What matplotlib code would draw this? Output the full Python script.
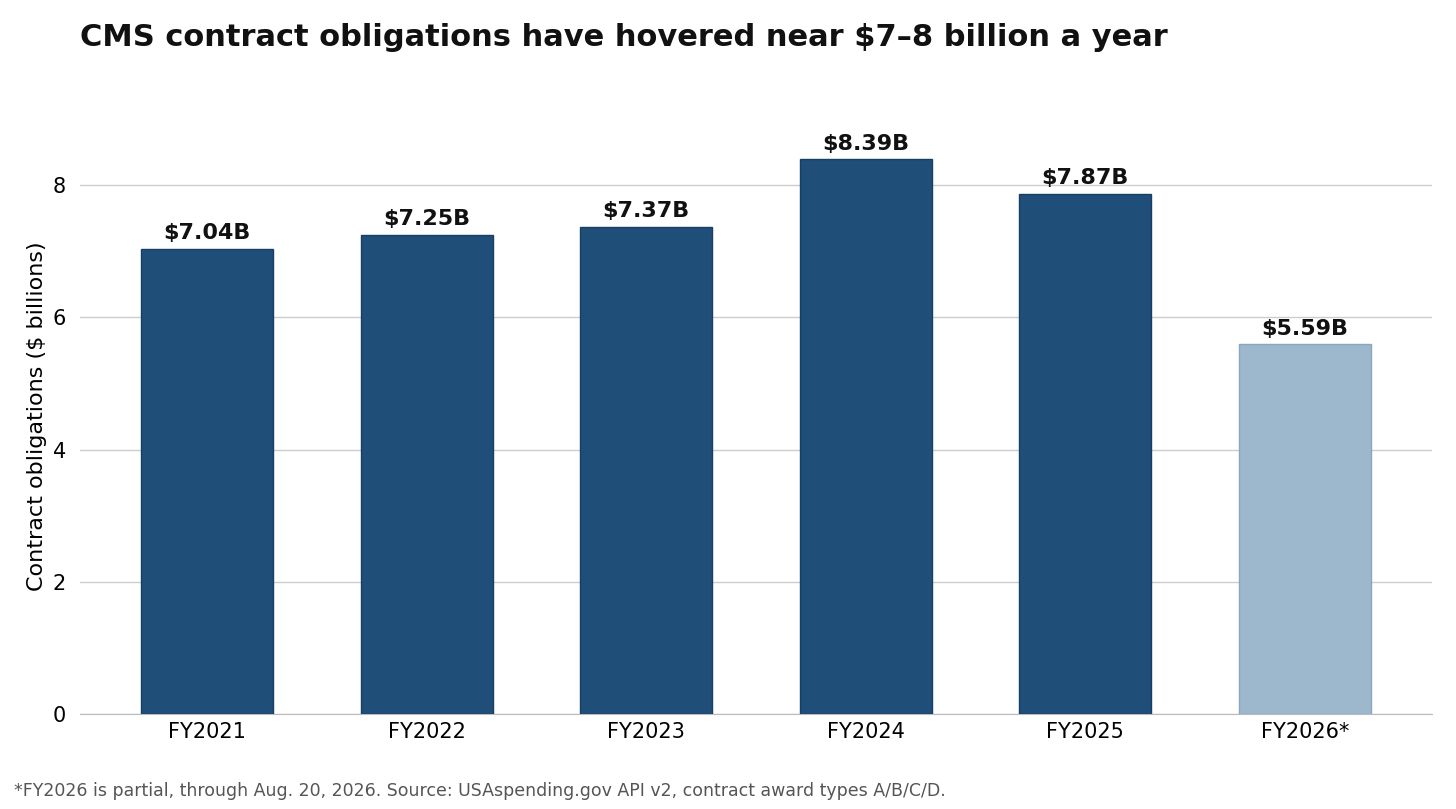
import matplotlib
matplotlib.use("Agg")
import matplotlib.pyplot as plt

# 数据
years = ["FY2021", "FY2022", "FY2023", "FY2024", "FY2025", "FY2026*"]
values = [7.04, 7.25, 7.37, 8.39, 7.87, 5.59]
partial = [False, False, False, False, False, True]

fig = plt.figure(figsize=(14.56, 8.09), dpi=100)
ax = fig.add_axes([80 / 1456, 1 - 714 / 809, (1432 - 80) / 1456, (714 - 119) / 809])

colors = ["#9db8cd" if p else "#1f4e79" for p in partial]
edges = ["#8aa7be" if p else "#173f66" for p in partial]
x = range(len(years))
bars = ax.bar(x, values, width=0.6, color=colors, edgecolor=edges, linewidth=1, zorder=3)

for b, v in zip(bars, values):
    ax.text(b.get_x() + b.get_width() / 2, v + 0.08, f"${v:.2f}B",
            ha="center", va="bottom", fontsize=16, fontweight="bold", color="#111111")

ax.set_xlim(-0.58, 5.58)
ax.set_ylim(0, 9.0)
ax.set_xticks(list(x))
ax.set_xticklabels(years, fontsize=15)
ax.set_yticks([0, 2, 4, 6, 8])
ax.tick_params(axis="y", labelsize=15, length=0, pad=10)
ax.tick_params(axis="x", length=0, pad=6)
ax.set_ylabel("Contract obligations ($ billions)", fontsize=16)
ax.grid(axis="y", color="#cccccc", linewidth=1, zorder=0)
for s in ["left", "right", "top"]:
    ax.spines[s].set_visible(False)
ax.spines["bottom"].set_color("#bbbbbb")

fig.text(80 / 1456, 1 - 38 / 809, "CMS contract obligations have hovered near $7\u20138 billion a year",
         fontsize=22, fontweight="bold", va="center", ha="left", color="#111111")
fig.text(14 / 1456, 1 - 791 / 809,
         "*FY2026 is partial, through Aug. 20, 2026. Source: USAspending.gov API v2, contract award types A/B/C/D.",
         fontsize=12.5, color="#555555", va="center", ha="left")

plt.savefig("out.png", dpi=100)
